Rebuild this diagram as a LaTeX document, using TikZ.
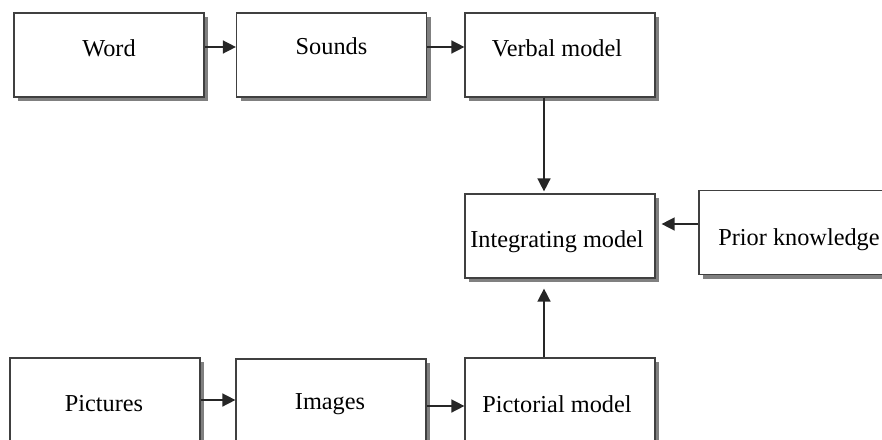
\documentclass[tikz,border=0pt]{standalone}
\usepackage{fontspec}
\setmainfont{Liberation Serif}
\usetikzlibrary{shadows,arrows.meta}
\begin{document}
\begin{tikzpicture}[x=1pt,y=-1pt,
  box/.style={draw=black!75, line width=1.2pt, fill=white, minimum width=190pt, minimum height=84pt, inner sep=0pt,
    general shadow={shadow xshift=4pt, shadow yshift=-4pt, fill=black!50}},
  txt/.style={font=\fontsize{24.3}{29}\selectfont, inner sep=0pt},
  arr/.style={draw=black!85, line width=1.5pt, -{Triangle[length=13pt,width=13pt]}}]
\useasboundingbox (0,0) rectangle (882,439);
% boxes
\node[box] (word) at (109,55) {};
\node[box] (sounds) at (331.5,55) {};
\node[box] (verbal) at (560,55) {};
\node[box] (integ) at (560,236) {};
\node[box] (prior) at (794,232.5) {};
\node[box] (pictures) at (105,400) {};
\node[box] (images) at (331,401) {};
\node[box] (pictorial) at (560,400) {};
% texts
\node[txt] (tword) at (109,48) {Word};
\node[txt] (tsounds) at (331.5,46) {Sounds};
\node[txt] (tverbal) at (557,48) {Verbal model};
\node[txt] (tinteg) at (557,242) {Integrating model};
\node[txt] (tprior) at (799,240) {Prior knowledge};
\node[txt] (tpictures) at (104,404) {Pictures};
\node[txt] (timages) at (330,404) {Images};
\node[txt] (tpictorial) at (557,404) {Pictorial model};
% arrows
\draw[arr] ([yshift=8pt]word.east) -- ([yshift=8pt]word.east -| sounds.west);
\draw[arr] ([yshift=8pt]sounds.east) -- ([yshift=8pt]sounds.east -| verbal.west);
\draw[arr, shorten >=2pt] ([xshift=-16pt]verbal.south) -- ([xshift=-16pt]integ.north);
\draw[arr] ([yshift=8.5pt]prior.west) -- ([yshift=8.5pt,xshift=6pt]prior.west -| integ.east);
\draw[arr] (pictures.east) -- (pictures.east -| images.west);
\draw[arr] ([yshift=-5pt]images.east) -- ([yshift=-5pt]images.east -| pictorial.west);
\draw[arr, shorten >=10pt] ([xshift=-16pt]pictorial.north) -- ([xshift=-16pt]integ.south);
\end{tikzpicture}
\end{document}
